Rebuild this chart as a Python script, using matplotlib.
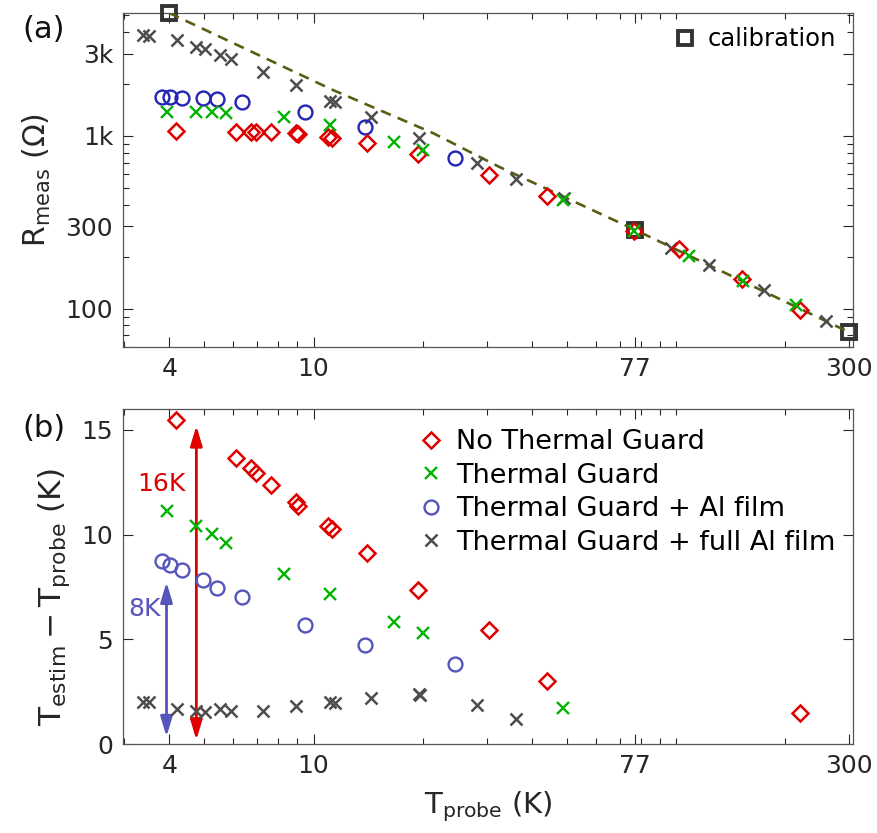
import numpy as np
import matplotlib
matplotlib.use("Agg")
import matplotlib.pyplot as plt
import matplotlib.ticker as ticker

plt.rcParams['font.family'] = 'DejaVu Sans'
plt.rcParams['mathtext.fontset'] = 'dejavusans'

# ─────────────────────────── DATA ─────────────────────────────────────────────
# calibration points and calibration curve (panel a)
cal_T = [4, 77, 300]
cal_R = [5150, 286, 73]
curve_T = [4, 11.3, 21.3, 32.5, 77, 300]
curve_R = [5150, 1846, 1041, 662, 286, 73]

# No Thermal Guard (red diamonds)
red_T_a = [4.17, 6.12, 6.74, 6.92, 7.65, 8.96, 9.04, 10.95, 11.23, 14.0, 19.4,
           30.4, 43.9, 76.6, 101.9, 151.6, 219.6]
red_R_a = [1073, 1059, 1059, 1050, 1050, 1036, 1027, 991, 978, 907, 787,
           591, 452, 282, 222, 149, 98.6]
red_T_b = [4.17, 6.12, 6.74, 6.92, 7.65, 8.96, 9.04, 10.95, 11.23, 14.0, 19.4,
           30.4, 43.9, 219.6]
red_dT_b = [15.46, 13.65, 13.20, 12.92, 12.38, 11.54, 11.38, 10.43, 10.27, 9.11,
            7.37, 5.43, 3.0, 1.48]

# Thermal Guard (green x)
grn_T_a = [3.93, 4.75, 5.23, 5.72, 8.27, 11.07, 16.7, 20.0, 48.6, 76.6, 108.6,
           152.4, 213.8]
grn_R_a = [1381, 1381, 1381, 1364, 1282, 1157, 927, 830, 427, 280, 202, 144, 105.5]
grn_T_b = [3.93, 4.75, 5.23, 5.72, 8.27, 11.07, 16.7, 20.0, 48.6]
grn_dT_b = [11.14, 10.43, 10.03, 9.59, 8.10, 7.18, 5.82, 5.30, 1.71]

# Thermal Guard + Al film (blue circles)
blu_T = [3.81, 4.01, 4.34, 4.95, 5.41, 6.34, 9.49, 13.88, 24.5]
blu_R_a = [1674, 1674, 1652, 1652, 1637, 1566, 1381, 1132, 750]
blu_dT_b = [8.76, 8.56, 8.29, 7.81, 7.46, 7.01, 5.67, 4.71, 3.80]

# Thermal Guard + full Al film (grey x)
gry_T_a = [3.39, 3.52, 4.20, 4.75, 5.01, 5.53, 5.93, 7.25, 8.92, 11.07, 11.42,
           14.42, 19.5, 28.3, 36.2, 49.1, 96.6, 123, 175, 258]
gry_R_a = [3837, 3784, 3590, 3283, 3170, 2939, 2775, 2353, 1971, 1600, 1579,
           1294, 970, 701, 564, 436, 224, 180, 129, 84.5]
gry_T_b = [3.39, 3.52, 4.20, 4.75, 5.01, 5.53, 5.93, 7.25, 8.92, 11.07, 11.42,
           14.42, 19.5, 19.7, 28.3, 36.2]
gry_dT_b = [2.01, 1.99, 1.65, 1.57, 1.54, 1.65, 1.57, 1.57, 1.81, 2.01, 1.97,
            2.18, 2.38, 2.32, 1.86, 1.18]

x_ticks = [4, 10, 77, 300]
x_ticklabels = ['4', '10', '77', '300']
ya_ticks = [100, 300, 1000, 3000]
ya_ticklabels = ['100', '300', '1k', '3k']
yb_ticks = [0, 5, 10, 15]

# arrows in panel b: (T, bottom, top)
arrow_red = (4.75, 0.19, 15.2)
arrow_blu = (3.93, 0.35, 7.73)
# ──────────────────────────────────────────────────────────────────────────────

RED = '#e00000'
GRN = '#00b400'
BLU_A = '#2525b5'
BLU_B = '#5555bb'
GRY = '#4d4d4d'
AXC = '#262626'
FS = 18

fig = plt.figure(figsize=(8.78, 8.33), dpi=100)
ax_a = fig.add_axes([0.140, 0.5834, 0.8315, 0.401])
ax_b = fig.add_axes([0.140, 0.1068, 0.8315, 0.4022])


def style_axis(ax):
    ax.set_xscale('log')
    ax.set_xlim(2.98, 307)
    ax.xaxis.set_major_locator(ticker.FixedLocator(x_ticks))
    ax.xaxis.set_major_formatter(ticker.FixedFormatter(x_ticklabels))
    ax.xaxis.set_minor_locator(ticker.LogLocator(subs=np.arange(1, 10)))
    ax.xaxis.set_minor_formatter(ticker.NullFormatter())
    ax.tick_params(which='both', direction='in', top=True, right=True,
                   colors=AXC, labelsize=FS, width=0.8)
    ax.tick_params(which='major', length=7)
    ax.tick_params(which='minor', length=4)
    ax.tick_params(axis='x', pad=7)
    ax.tick_params(axis='y', pad=7)
    for s in ax.spines.values():
        s.set_color('#555555')
        s.set_linewidth(0.9)


# ── panel (a) ──
style_axis(ax_a)
ax_a.set_yscale('log')
ax_a.set_ylim(60, 5150)
ax_a.yaxis.set_major_locator(ticker.FixedLocator(ya_ticks))
ax_a.yaxis.set_major_formatter(ticker.FixedFormatter(ya_ticklabels))
ax_a.yaxis.set_minor_locator(ticker.LogLocator(subs=np.arange(1, 10)))
ax_a.yaxis.set_minor_formatter(ticker.NullFormatter())

ax_a.plot(cal_T, cal_R, 's', ms=9.5, mfc='none', mec='#333333', mew=2.8,
          clip_on=False, zorder=3, label='calibration')
ax_a.plot(curve_T, curve_R, color='#5c5c12', lw=1.9, dashes=(4, 2.8), zorder=4)
ax_a.plot(gry_T_a, gry_R_a, 'x', ms=9, mew=1.8, color=GRY, zorder=5)
ax_a.plot(blu_T, blu_R_a, 'o', ms=10, mfc='none', mec=BLU_A, mew=1.7, zorder=5)
ax_a.plot(red_T_a, red_R_a, 'D', ms=8.3, mfc='none', mec=RED, mew=1.8, zorder=6)
ax_a.plot(grn_T_a, grn_R_a, 'x', ms=8, mew=1.7, color=GRN, zorder=7)

ax_a.set_ylabel(r'$\mathregular{R_{meas}}$ ($\Omega$)', fontsize=21.5, color=AXC)
ax_a.yaxis.set_label_coords(-0.096, 0.5)
ax_a.legend(loc='upper left', bbox_to_anchor=(0.753, 0.958), frameon=False,
            fontsize=17.5, handlelength=1.0, handletextpad=0.45,
            borderpad=0, borderaxespad=0)

# ── panel (b) ──
style_axis(ax_b)
ax_b.set_ylim(0, 16)
ax_b.yaxis.set_major_locator(ticker.FixedLocator(yb_ticks))

ax_b.plot(red_T_b, red_dT_b, 'D', ms=8.3, mfc='none', mec=RED, mew=1.8,
          zorder=6, label='No Thermal Guard')
ax_b.plot(grn_T_b, grn_dT_b, 'x', ms=8, mew=1.7, color=GRN, zorder=7,
          label='Thermal Guard')
ax_b.plot(blu_T, blu_dT_b, 'o', ms=10, mfc='none', mec=BLU_B, mew=1.7,
          zorder=5, label='Thermal Guard + Al film')
ax_b.plot(gry_T_b, gry_dT_b, 'x', ms=9, mew=1.8, color=GRY, zorder=5,
          label='Thermal Guard + full Al film')

for (t, y0, y1), c in [(arrow_red, RED), (arrow_blu, BLU_B)]:
    ax_b.annotate('', xy=(t, y1), xytext=(t, y0),
                  arrowprops=dict(arrowstyle='<|-|>,head_length=1.0,head_width=0.3',
                                  color=c, lw=2, shrinkA=0, shrinkB=0,
                                  mutation_scale=12))
ax_b.text(3.81, 12.44, '16K', color=RED, fontsize=FS, ha='center', va='center')
ax_b.text(3.42, 6.47, '8K', color=BLU_B, fontsize=FS, ha='center', va='center')

ax_b.legend(loc='upper left', bbox_to_anchor=(0.403, 0.94), frameon=False,
            fontsize=19.5, handlelength=1.0, handletextpad=0.45, labelspacing=0.28,
            borderpad=0, borderaxespad=0)

ax_b.set_ylabel(r'$\mathregular{T_{estim} - T_{probe}}$ (K)', fontsize=22.5, color=AXC)
ax_b.yaxis.set_label_coords(-0.07, 0.437)
ax_b.set_xlabel(r'$\mathregular{T_{probe}}$ (K)', fontsize=21, color=AXC)
ax_b.xaxis.set_label_coords(0.5, -0.135)

fig.text(0.050, 0.965, '(a)', fontsize=22, ha='center', va='center', color='#111111')
fig.text(0.050, 0.486, '(b)', fontsize=22, ha='center', va='center', color='#111111')

fig.savefig('out.png', dpi=100)
